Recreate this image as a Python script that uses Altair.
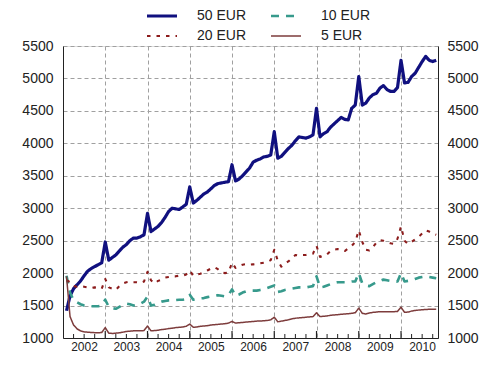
import altair as alt
import pandas as pd

series_names = ["50 EUR", "10 EUR", "20 EUR", "5 EUR"]
series_colors = ["#10107f", "#379a8c", "#8c1c1c", "#7d3c3c"]
series_dash = [[1, 0], [8, 7], [3.5, 6], [1, 0]]
series_width = [3.2, 1.5, 3.8, 1.2]

year_labels = [2002, 2003, 2004, 2005, 2006, 2007, 2008, 2009, 2010]
y_ticks = [1000, 1500, 2000, 2500, 3000, 3500, 4000, 4500, 5000, 5500]

# monthly values, Jan 2002 .. Oct 2010
eur50 = [
    1420, 1650, 1760, 1820, 1880, 1960, 2030, 2070, 2100, 2130, 2160, 2480,
    2200, 2240, 2280, 2340, 2400, 2440, 2500, 2540, 2540, 2560, 2590, 2920,
    2640, 2680, 2720, 2780, 2860, 2950, 3000, 2990, 2980, 3020, 3060, 3330,
    3080, 3120, 3170, 3220, 3250, 3300, 3350, 3380, 3390, 3400, 3410, 3670,
    3420, 3450, 3500, 3560, 3620, 3710, 3740, 3760, 3790, 3800, 3820, 4180,
    3770, 3800, 3860, 3920, 3970, 4040, 4100, 4090, 4080, 4100, 4130, 4540,
    4100, 4150, 4180, 4250, 4300, 4350, 4400, 4370, 4360, 4540, 4590, 5030,
    4590, 4620, 4700, 4750, 4770, 4850, 4890, 4830, 4800, 4800, 4860, 5280,
    4930, 4940, 5030, 5080, 5170, 5260, 5340, 5280, 5260, 5280,
]
eur20 = [
    1890, 1860, 1800, 1790, 1800, 1790, 1780, 1770, 1780, 1770, 1760, 1910,
    1780, 1760, 1740, 1800, 1840, 1860, 1870, 1860, 1860, 1850, 1870, 2020,
    1890, 1840, 1880, 1900, 1930, 1940, 1950, 1950, 1960, 1960, 1980, 2040,
    1960, 1980, 1990, 2010, 2040, 2070, 2090, 2060, 2010, 2000, 2010, 2160,
    2080, 2110, 2130, 2140, 2130, 2135, 2140, 2150, 2160, 2170, 2200, 2360,
    2190, 2100, 2150, 2180, 2230, 2280, 2270, 2280, 2280, 2290, 2300, 2420,
    2250, 2260, 2290, 2340, 2360, 2370, 2360, 2340, 2380, 2420, 2480, 2660,
    2480, 2360, 2350, 2400, 2470, 2510, 2500, 2480, 2460, 2450, 2530, 2720,
    2500, 2450, 2480, 2520, 2560, 2610, 2660, 2640, 2610, 2590,
]
eur10 = [
    1960, 1700, 1580, 1550, 1520, 1500, 1490, 1490, 1490, 1490, 1500, 1590,
    1480, 1460, 1450, 1480, 1510, 1530, 1520, 1500, 1510, 1530, 1560, 1640,
    1500, 1510, 1540, 1560, 1570, 1580, 1585, 1585, 1590, 1590, 1600, 1665,
    1590, 1600, 1610, 1615, 1630, 1640, 1650, 1660, 1650, 1640, 1660, 1750,
    1650, 1670, 1700, 1720, 1730, 1730, 1730, 1740, 1750, 1770, 1790, 1810,
    1710, 1720, 1740, 1750, 1760, 1770, 1780, 1780, 1780, 1790, 1800, 1950,
    1780, 1790, 1810, 1830, 1850, 1860, 1860, 1860, 1860, 1870, 1870, 2000,
    1840, 1810, 1800, 1830, 1860, 1880, 1900, 1890, 1880, 1880, 1870, 2000,
    1870, 1880, 1890, 1910, 1930, 1940, 1950, 1940, 1930, 1920,
]
eur5 = [
    1950, 1330, 1200, 1140, 1110, 1095, 1090, 1085, 1082, 1080, 1085, 1160,
    1075, 1070, 1075, 1080, 1090, 1100, 1105, 1110, 1110, 1110, 1115, 1185,
    1110, 1115, 1120, 1130, 1135, 1145, 1150, 1160, 1165, 1170, 1180, 1215,
    1165, 1170, 1180, 1185, 1190, 1200, 1205, 1210, 1215, 1220, 1230, 1255,
    1230, 1235, 1240, 1245, 1250, 1255, 1260, 1262, 1265, 1270, 1280, 1320,
    1250, 1260, 1270, 1280, 1295, 1305, 1310, 1315, 1320, 1325, 1330, 1390,
    1330, 1335, 1340, 1350, 1355, 1360, 1365, 1370, 1375, 1380, 1390, 1460,
    1380, 1370, 1385, 1395, 1400, 1405, 1405, 1405, 1405, 1405, 1410, 1475,
    1395, 1400, 1415, 1425, 1430, 1435, 1440, 1442, 1442, 1445,
]

values_by_series = {"50 EUR": eur50, "10 EUR": eur10, "20 EUR": eur20, "5 EUR": eur5}
draw_order = {"5 EUR": 0, "10 EUR": 1, "20 EUR": 2, "50 EUR": 3}

rows = []
for name, vals in values_by_series.items():
    for i, v in enumerate(vals):
        rows.append({"t": 2002 + (i + 1) / 12, "v": v, "series": name,
                     "ord": draw_order[name]})
df = pd.DataFrame(rows)

x_domain = [2002, 2010.875]
quarters = [y + q / 4 for y in range(2002, 2011) for q in (1, 2, 3) if y + q / 4 < x_domain[1]]
years = [y for y in range(2003, 2011)]
ticks_minor = pd.DataFrame({"t": quarters})
ticks_major = pd.DataFrame({"t": years})

W, H = 375, 292
FONT = "Liberation Sans"
xscale = alt.Scale(domain=x_domain, nice=False, zero=False)
yscale = alt.Scale(domain=[1000, 5500], nice=False, zero=False)

leg = alt.Legend(
    title=None, orient="none", legendX=80, legendY=-37, columns=2,
    direction="horizontal", symbolType="M-1,0L9,0", symbolSize=36,
    labelFontSize=14, labelFont=FONT, labelColor="#222", columnPadding=18,
    rowPadding=6, labelOffset=40,
)

lines = alt.Chart(df).mark_line(strokeCap="butt", strokeJoin="round").encode(
    x=alt.X("t:Q", scale=xscale, axis=alt.Axis(
        values=year_labels, format="d", labelOffset=21, labelAlign="center",
        tickSize=0, grid=True, gridDash=[4, 3], gridColor="#a0a0a0",
        domainColor="#222", labelFontSize=12, labelFont=FONT, labelColor="#222",
        labelPadding=3, title=None, labelFlush=False)),
    y=alt.Y("v:Q", scale=yscale, axis=alt.Axis(
        values=y_ticks, format="d", grid=True, gridDash=[4, 3], gridColor="#a0a0a0",
        domainColor="#222", tickSize=0, labelPadding=10, labelFontSize=14,
        labelFont=FONT, labelColor="#222", title=None)),
    color=alt.Color("series:N", scale=alt.Scale(domain=series_names, range=series_colors), legend=leg),
    strokeDash=alt.StrokeDash("series:N", scale=alt.Scale(domain=series_names, range=series_dash), legend=leg),
    strokeWidth=alt.StrokeWidth("series:N", scale=alt.Scale(domain=series_names, range=series_width), legend=leg),
    order=alt.Order("ord:Q"),
)

minor = alt.Chart(ticks_minor).mark_rule(color="#222", strokeWidth=1).encode(
    x=alt.X("t:Q", scale=xscale),
    y=alt.YDatum(1000, type="quantitative", scale=yscale, axis=alt.Axis(
        orient="right", values=y_ticks, format="d", grid=False, domainColor="#222",
        tickSize=0, labelPadding=9, labelFontSize=14, labelFont=FONT,
        labelColor="#222", title=None)),
    y2=alt.value(H - 4),
)
major = alt.Chart(ticks_major).mark_rule(color="#222", strokeWidth=1.2).encode(
    x=alt.X("t:Q", scale=xscale),
    y=alt.value(H),
    y2=alt.value(H - 7),
)

chart = alt.layer(lines, minor, major).resolve_scale(y="independent").properties(
    width=W, height=H,
    autosize=alt.AutoSizeParams(type="none"),
    padding={"left": 55, "top": 38, "right": 54, "bottom": 27},
).configure_view(stroke=None).configure(background="white")

chart.save("out.html", embed_options={"renderer": "svg", "actions": False})
